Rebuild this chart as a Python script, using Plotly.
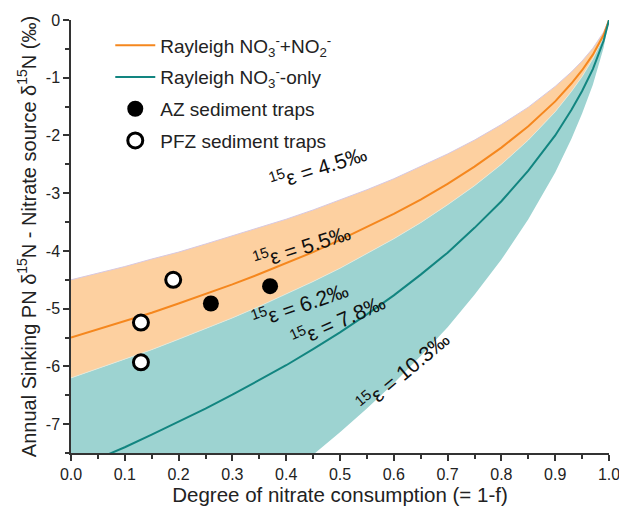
import plotly.graph_objects as go

# Degree of nitrate consumption (1-f)
consumption = [0, 0.05, 0.1, 0.15, 0.2, 0.25, 0.3, 0.35, 0.4, 0.45, 0.5, 0.55,
               0.6, 0.65, 0.7, 0.75, 0.8, 0.85, 0.9, 0.93, 0.95, 0.97, 0.99, 1.0]

# Rayleigh curves (PN d15N - source d15N)
eps_4_5 = [-4.50, -4.39, -4.27, -4.14, -4.02, -3.88, -3.74, -3.60, -3.45, -3.29, -3.12, -2.94,
           -2.75, -2.54, -2.32, -2.08, -1.81, -1.51, -1.15, -0.90, -0.71, -0.49, -0.21, 0.0]
eps_5_5 = [-5.50, -5.36, -5.22, -5.07, -4.91, -4.75, -4.58, -4.40, -4.21, -4.02, -3.81, -3.59,
           -3.36, -3.11, -2.84, -2.54, -2.21, -1.84, -1.41, -1.10, -0.87, -0.60, -0.26, 0.0]
eps_6_2 = [-6.20, -6.04, -5.88, -5.71, -5.53, -5.35, -5.16, -4.96, -4.75, -4.53, -4.30, -4.05,
           -3.79, -3.51, -3.20, -2.87, -2.50, -2.08, -1.59, -1.24, -0.98, -0.67, -0.29, 0.0]
eps_7_8 = [-7.80, -7.60, -7.40, -7.18, -6.96, -6.73, -6.49, -6.24, -5.98, -5.70, -5.41, -5.10,
           -4.77, -4.41, -4.03, -3.60, -3.14, -2.61, -2.00, -1.56, -1.23, -0.85, -0.36, 0.0]
eps_10_3 = [-10.30, -10.04, -9.77, -9.49, -9.19, -8.89, -8.57, -8.24, -7.89, -7.53, -7.14, -6.73,
            -6.29, -5.82, -5.32, -4.76, -4.15, -3.45, -2.64, -2.06, -1.62, -1.12, -0.48, 0.0]

# Sediment trap observations
az_x = [0.26, 0.37]
az_y = [-4.91, -4.61]
pfz_x = [0.13, 0.13, 0.19]
pfz_y = [-5.24, -5.93, -4.50]

# Axis ticks
x_ticks = [0.0, 0.1, 0.2, 0.3, 0.4, 0.5, 0.6, 0.7, 0.8, 0.9, 1.0]
x_ticklabels = ["0.0", "0.1", "0.2", "0.3", "0.4", "0.5", "0.6", "0.7", "0.8", "0.9", "1.0"]
y_ticks = [-7, -6, -5, -4, -3, -2, -1, 0]
y_ticklabels = ["-7", "-6", "-5", "-4", "-3", "-2", "-1", "0"]

# Curve labels: (text, x, y, angle)
label_text = ["<sup>15</sup>ε = 4.5‰", "<sup>15</sup>ε = 5.5‰", "<sup>15</sup>ε = 6.2‰",
              "<sup>15</sup>ε = 7.8‰", "<sup>15</sup>ε = 10.3‰"]
label_x = [0.459, 0.429, 0.426, 0.496, 0.617]
label_y = [-2.54, -3.92, -4.92, -5.20, -6.08]
label_angle = [-18, -18, -19, -24, -40]

FONT = "Arial, 'Liberation Sans', sans-serif"
ORANGE_FILL = "rgb(253,208,160)"
TEAL_FILL = "rgb(157,211,209)"
ORANGE_LINE = "rgb(245,135,30)"
TEAL_LINE = "rgb(18,133,128)"

fig = go.Figure()

# Bands
fig.add_trace(go.Scatter(x=consumption, y=eps_10_3, mode="lines",
                         line=dict(width=0, color=TEAL_FILL), showlegend=False,
                         hoverinfo="skip"))
fig.add_trace(go.Scatter(x=consumption, y=eps_6_2, mode="lines", fill="tonexty",
                         fillcolor=TEAL_FILL, line=dict(width=0.8, color="rgb(225,235,225)"),
                         showlegend=False, hoverinfo="skip"))
fig.add_trace(go.Scatter(x=consumption, y=eps_4_5, mode="lines", fill="tonexty",
                         fillcolor=ORANGE_FILL, line=dict(width=1, color="rgb(215,200,225)"),
                         showlegend=False, hoverinfo="skip"))

# Lines
fig.add_trace(go.Scatter(x=consumption, y=eps_5_5, mode="lines",
                         line=dict(width=2, color=ORANGE_LINE),
                         name="Rayleigh NO<sub>3</sub><sup>-</sup>+NO<sub>2</sub><sup>-</sup>",
                         legendgroup="a"))
fig.add_trace(go.Scatter(x=consumption, y=eps_7_8, mode="lines",
                         line=dict(width=2, color=TEAL_LINE),
                         name="Rayleigh NO<sub>3</sub><sup>-</sup>-only",
                         legendgroup="b"))

# Points
fig.add_trace(go.Scatter(x=az_x, y=az_y, mode="markers",
                         marker=dict(size=16, color="black", line=dict(width=0)),
                         name="AZ sediment traps", legendgroup="c"))
fig.add_trace(go.Scatter(x=pfz_x, y=pfz_y, mode="markers",
                         marker=dict(size=15, color="white", line=dict(width=3, color="black")),
                         name="PFZ sediment traps", legendgroup="d"))

for t, x, y, a in zip(label_text, label_x, label_y, label_angle):
    fig.add_annotation(x=x, y=y, xref="x", yref="y", text=t, textangle=a,
                       showarrow=False, font=dict(family=FONT, size=21, color="#111"))

axis_common = dict(showline=True, linecolor="#333", linewidth=1.5, ticks="outside",
                   ticklen=6, tickwidth=1.5, tickcolor="#333", showgrid=False,
                   zeroline=False, automargin=False,
                   tickfont=dict(family=FONT, size=16, color="#222"))

fig.update_xaxes(range=[0, 1], tickvals=x_ticks, ticktext=x_ticklabels,
                 ticklabeloverflow="allow",
                 minor=dict(dtick=0.05, tick0=0, ticks="outside", ticklen=4,
                            tickwidth=1.5, tickcolor="#333"),
                 title=dict(text="Degree of nitrate consumption (= 1-f)",
                            font=dict(family=FONT, size=20.5, color="#222"), standoff=6),
                 **axis_common)
fig.update_yaxes(range=[-7.5, 0], tickvals=y_ticks, ticktext=y_ticklabels,
                 ticklabeloverflow="allow",
                 minor=dict(dtick=0.5, tick0=0, ticks="outside", ticklen=4,
                            tickwidth=1.5, tickcolor="#333"),
                 title=dict(text="Annual Sinking PN δ<sup>15</sup>N - Nitrate source δ<sup>15</sup>N (‰)",
                            font=dict(family=FONT, size=20, color="#222"), standoff=4),
                 **axis_common)

fig.update_layout(
    width=619, height=511,
    margin=dict(l=71, r=10, t=20, b=58),
    plot_bgcolor="white", paper_bgcolor="white",
    font=dict(family=FONT, color="#222"),
    legend=dict(x=0.073, y=0.985, xanchor="left", yanchor="top",
                bgcolor="rgba(0,0,0,0)", font=dict(family=FONT, size=19, color="#222"),
                tracegroupgap=4, itemwidth=40),
    showlegend=True,
)

fig.write_html("out.html", config={"displayModeBar": False},
               post_script="document.body.style.margin='0';document.body.style.overflow='hidden';")
